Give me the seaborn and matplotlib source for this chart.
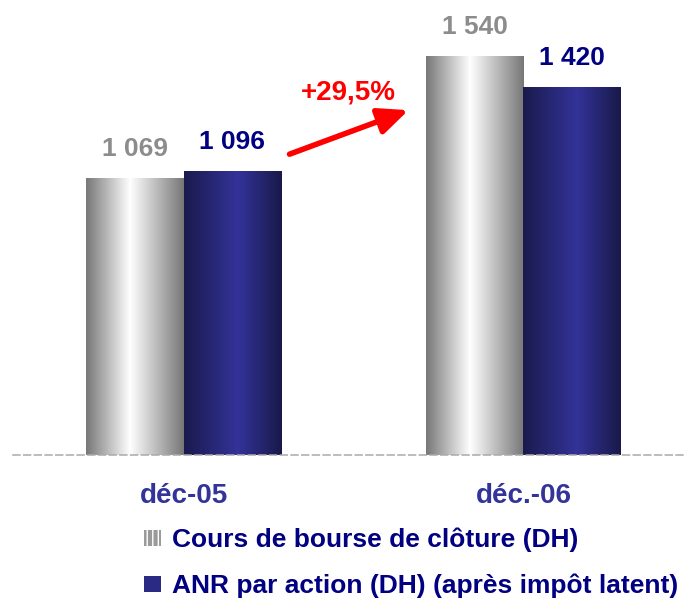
import numpy as np
import pandas as pd
import seaborn as sns
import matplotlib.pyplot as plt
from matplotlib.colors import LinearSegmentedColormap
from matplotlib.patches import Rectangle

# Data
periods = ["déc-05", "déc.-06"]
series = ["Cours de bourse de clôture (DH)",
          "ANR par action (DH) (après impôt latent)"]
cours = [1069, 1540]
anr = [1096, 1420]
growth_label = "+29,5%"

df = pd.DataFrame({
    "periode": periods * 2,
    "serie": [series[0]] * len(periods) + [series[1]] * len(periods),
    "valeur": cours + anr,
})

sns.set_style("white")
plt.rcParams["font.family"] = ["Liberation Sans", "DejaVu Sans"]

fig = plt.figure(figsize=(6.86, 6), dpi=100)
ax = fig.add_axes([13 / 686, 1 - 455 / 600, 673 / 686, 455 / 600])

sns.barplot(data=df, x="periode", y="valeur", hue="serie", order=periods,
            hue_order=series, palette=["#c0c0c0", "#2d2d8a"], width=0.574,
            gap=0, saturation=1, legend=False, ax=ax)

# gradient fills clipped to each bar
cmaps = [
    LinearSegmentedColormap.from_list("argent", [(0, "#777777"), (0.45, "#ffffff"), (1, "#777777")]),
    LinearSegmentedColormap.from_list("marine", [(0, "#1a1a4d"), (0.55, "#333399"), (1, "#19194a")]),
]
label_colors = ["#8c8c8c", "#000080"]
grad = np.linspace(0, 1, 256).reshape(1, -1)
for cont, cmap, col in zip(ax.containers, cmaps, label_colors):
    for bar in cont:
        x0, y0 = bar.get_x(), bar.get_y()
        w, h = bar.get_width(), bar.get_height()
        im = ax.imshow(grad, cmap=cmap, aspect="auto", extent=[x0, x0 + w, y0, y0 + h],
                       zorder=bar.get_zorder())
        im.set_clip_path(bar)
        bar.set_facecolor("none")
        bar.set_edgecolor("none")
    ax.bar_label(cont, labels=[f"{int(v):,}".replace(",", " ") for v in cont.datavalues],
                 padding=12.5, color=col, fontsize=19, fontweight="bold")

ax.set_xlim(-0.5015, 1.478)
ax.set_ylim(0, 1757)
ax.set_xlabel("")
ax.set_ylabel("")
ax.set_yticks([])

for s in ["top", "left", "right"]:
    ax.spines[s].set_visible(False)
ax.spines["bottom"].set_color("#aaaaaa")
ax.spines["bottom"].set_linewidth(1.1)
ax.spines["bottom"].set_linestyle((0, (4.5, 2.5)))

ax.set_xticks(range(len(periods)), labels=periods)
ax.tick_params(axis="x", which="major", length=0, pad=20)
ax.set_xticks([-0.5, 0.5], minor=True)
ax.tick_params(axis="x", which="minor", length=4.5, width=1, color="#b8b8b8")
for lab in ax.get_xticklabels():
    lab.set_color("#333399")
    lab.set_fontweight("bold")
    lab.set_fontsize(20)

# growth arrow
ax.annotate("", xy=(0.5915, 0.76), xytext=(0.407, 0.659), xycoords="axes fraction",
            arrowprops=dict(arrowstyle="-|>,head_length=0.9,head_width=0.4",
                            mutation_scale=20, color="red", lw=4))
ax.text(0.498, 0.796, growth_label, transform=ax.transAxes, color="red",
        fontsize=20, fontweight="bold", ha="center", va="center")

handles = [
    Rectangle((0, 0), 1, 1, facecolor="#9a9a9a", edgecolor="white", hatch="|||", lw=0),
    Rectangle((0, 0), 1, 1, facecolor="#2a2a85", lw=0),
]
fig.legend(handles, series, loc="upper left", bbox_to_anchor=(144 / 686, 1 - 528 / 600),
           frameon=False, labelcolor="#000080", prop={"weight": "bold", "size": 19},
           handlelength=0.65, handleheight=0.57, handletextpad=0.42, labelspacing=0.8,
           borderpad=0, borderaxespad=0)

fig.savefig("out.png", dpi=100)
